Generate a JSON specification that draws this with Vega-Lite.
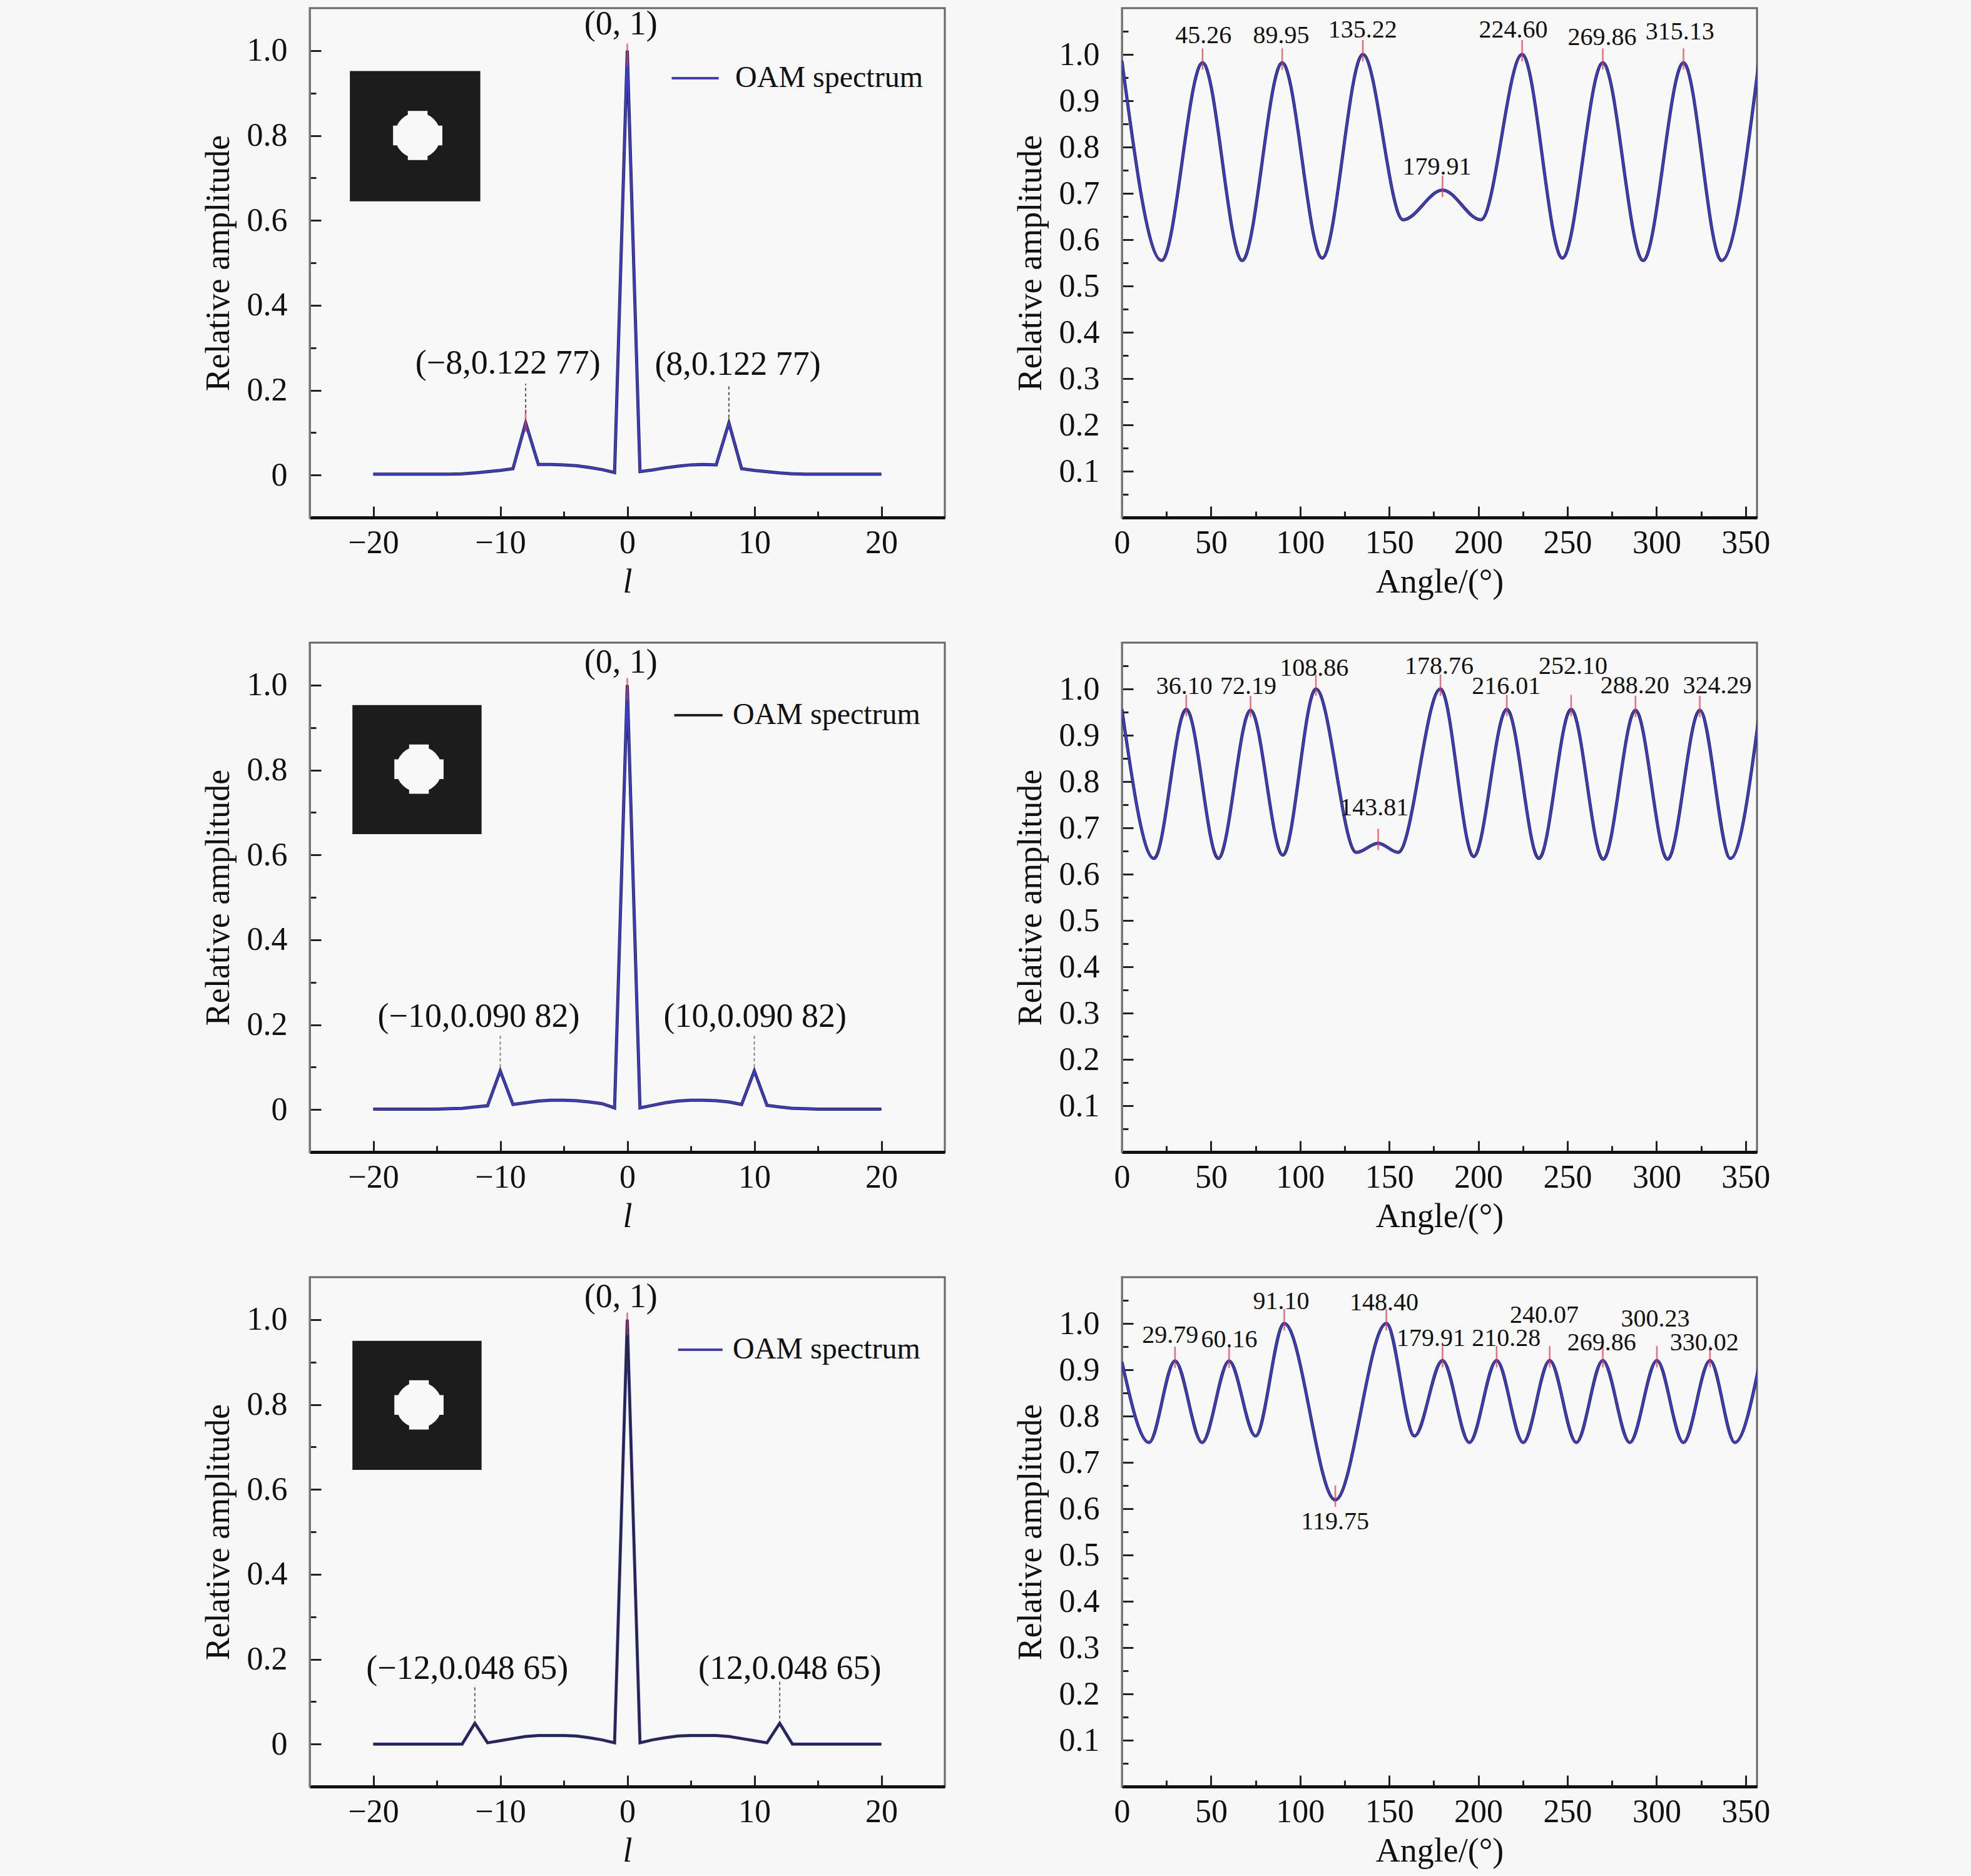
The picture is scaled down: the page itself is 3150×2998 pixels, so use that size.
{
  "$schema": "https://vega.github.io/schema/vega-lite/v6.json",
  "background": "#f7f7f7",
  "padding": {"left": 320, "top": 10, "right": 323, "bottom": 10},
  "config": {
    "font": "Liberation Serif",
    "view": {"stroke": "#666", "strokeWidth": 3, "fill": "#f8f8f8"},
    "axis": {
      "labelFont": "Liberation Serif", "labelFontSize": 52, "labelColor": "#111",
      "titleFont": "Liberation Serif", "titleFontSize": 54, "titleFontWeight": "normal", "titleColor": "#111",
      "grid": false, "tickColor": "#222", "tickWidth": 3,
      "labelFlush": false, "labelOverlap": false
    },
    "axisX": {"labelPadding": 33, "titlePadding": 2, "domainColor": "#111", "domainWidth": 5},
    "axisY": {"labelPadding": 54, "titlePadding": 18, "domainColor": "#777", "domainWidth": 3},
    "text": {"font": "Liberation Serif", "color": "#111"}
  },
  "datasets": {
    "oam1": [
      {"x": -20, "y": 0.002}, {"x": -19, "y": 0.002}, {"x": -18, "y": 0.002}, {"x": -17, "y": 0.002},
      {"x": -16, "y": 0.002}, {"x": -15, "y": 0.002}, {"x": -14, "y": 0.002}, {"x": -13, "y": 0.003},
      {"x": -12, "y": 0.005}, {"x": -11, "y": 0.008}, {"x": -10, "y": 0.011}, {"x": -9, "y": 0.015},
      {"x": -8, "y": 0.123}, {"x": -7, "y": 0.025}, {"x": -6, "y": 0.025}, {"x": -5, "y": 0.024},
      {"x": -4, "y": 0.022}, {"x": -3, "y": 0.018}, {"x": -2, "y": 0.013}, {"x": -1, "y": 0.006},
      {"x": 0, "y": 1.0},
      {"x": 1, "y": 0.008}, {"x": 2, "y": 0.012}, {"x": 3, "y": 0.017}, {"x": 4, "y": 0.021},
      {"x": 5, "y": 0.024}, {"x": 6, "y": 0.025}, {"x": 7, "y": 0.024}, {"x": 8, "y": 0.123},
      {"x": 9, "y": 0.015}, {"x": 10, "y": 0.011}, {"x": 11, "y": 0.008}, {"x": 12, "y": 0.005},
      {"x": 13, "y": 0.003}, {"x": 14, "y": 0.002}, {"x": 15, "y": 0.002}, {"x": 16, "y": 0.002},
      {"x": 17, "y": 0.002}, {"x": 18, "y": 0.002}, {"x": 19, "y": 0.002}, {"x": 20, "y": 0.002}
    ],
    "oam2": [
      {"x": -20, "y": 0.001}, {"x": -19, "y": 0.001}, {"x": -18, "y": 0.001}, {"x": -17, "y": 0.001},
      {"x": -16, "y": 0.001}, {"x": -15, "y": 0.001}, {"x": -14, "y": 0.002}, {"x": -13, "y": 0.003},
      {"x": -12, "y": 0.006}, {"x": -11, "y": 0.009}, {"x": -10, "y": 0.091}, {"x": -9, "y": 0.012},
      {"x": -8, "y": 0.016}, {"x": -7, "y": 0.02}, {"x": -6, "y": 0.022}, {"x": -5, "y": 0.022},
      {"x": -4, "y": 0.021}, {"x": -3, "y": 0.018}, {"x": -2, "y": 0.014}, {"x": -1, "y": 0.004},
      {"x": 0, "y": 1.0},
      {"x": 1, "y": 0.004}, {"x": 2, "y": 0.01}, {"x": 3, "y": 0.016}, {"x": 4, "y": 0.02},
      {"x": 5, "y": 0.022}, {"x": 6, "y": 0.022}, {"x": 7, "y": 0.021}, {"x": 8, "y": 0.018},
      {"x": 9, "y": 0.012}, {"x": 10, "y": 0.091}, {"x": 11, "y": 0.01}, {"x": 12, "y": 0.006},
      {"x": 13, "y": 0.003}, {"x": 14, "y": 0.002}, {"x": 15, "y": 0.001}, {"x": 16, "y": 0.001},
      {"x": 17, "y": 0.001}, {"x": 18, "y": 0.001}, {"x": 19, "y": 0.001}, {"x": 20, "y": 0.001}
    ],
    "oam3": [
      {"x": -20, "y": 0.0}, {"x": -19, "y": 0.0}, {"x": -18, "y": 0.0}, {"x": -17, "y": 0.0},
      {"x": -16, "y": 0.0}, {"x": -15, "y": 0.0}, {"x": -14, "y": 0.0}, {"x": -13, "y": 0.0},
      {"x": -12, "y": 0.049}, {"x": -11, "y": 0.003}, {"x": -10, "y": 0.008}, {"x": -9, "y": 0.013},
      {"x": -8, "y": 0.018}, {"x": -7, "y": 0.02}, {"x": -6, "y": 0.02}, {"x": -5, "y": 0.02},
      {"x": -4, "y": 0.019}, {"x": -3, "y": 0.015}, {"x": -2, "y": 0.01}, {"x": -1, "y": 0.003},
      {"x": 0, "y": 1.0},
      {"x": 1, "y": 0.003}, {"x": 2, "y": 0.01}, {"x": 3, "y": 0.015}, {"x": 4, "y": 0.019},
      {"x": 5, "y": 0.02}, {"x": 6, "y": 0.02}, {"x": 7, "y": 0.02}, {"x": 8, "y": 0.018},
      {"x": 9, "y": 0.013}, {"x": 10, "y": 0.008}, {"x": 11, "y": 0.003}, {"x": 12, "y": 0.049},
      {"x": 13, "y": 0.0}, {"x": 14, "y": 0.0}, {"x": 15, "y": 0.0}, {"x": 16, "y": 0.0},
      {"x": 17, "y": 0.0}, {"x": 18, "y": 0.0}, {"x": 19, "y": 0.0}, {"x": 20, "y": 0.0}
    ],
    "ang1": [
      {"x": 0, "y": 0.986}, {"x": 22.3, "y": 0.555}, {"x": 45.26, "y": 0.982}, {"x": 67.5, "y": 0.555},
      {"x": 89.95, "y": 0.982}, {"x": 112.4, "y": 0.56}, {"x": 135.22, "y": 1.0}, {"x": 157.8, "y": 0.643},
      {"x": 179.91, "y": 0.707}, {"x": 201.5, "y": 0.643}, {"x": 224.6, "y": 1.0}, {"x": 247.2, "y": 0.56},
      {"x": 269.86, "y": 0.982}, {"x": 292.5, "y": 0.555}, {"x": 315.13, "y": 0.982}, {"x": 336.5, "y": 0.555},
      {"x": 357.5, "y": 0.986}
    ],
    "ang2": [
      {"x": 0, "y": 0.956}, {"x": 18, "y": 0.634}, {"x": 36.1, "y": 0.956}, {"x": 54.1, "y": 0.634},
      {"x": 72.19, "y": 0.954}, {"x": 90.3, "y": 0.641}, {"x": 108.86, "y": 1.0}, {"x": 131.6, "y": 0.647},
      {"x": 143.81, "y": 0.667}, {"x": 155, "y": 0.647}, {"x": 178.76, "y": 1.0}, {"x": 197.4, "y": 0.638},
      {"x": 216.01, "y": 0.956}, {"x": 234, "y": 0.634}, {"x": 252.1, "y": 0.956}, {"x": 270.1, "y": 0.632},
      {"x": 288.2, "y": 0.954}, {"x": 306.2, "y": 0.632}, {"x": 324.29, "y": 0.954}, {"x": 341.5, "y": 0.634},
      {"x": 358, "y": 0.956}
    ],
    "ang3": [
      {"x": 0, "y": 0.917}, {"x": 15.2, "y": 0.743}, {"x": 29.79, "y": 0.919}, {"x": 45, "y": 0.743},
      {"x": 60.16, "y": 0.919}, {"x": 75, "y": 0.757}, {"x": 91.1, "y": 1.0}, {"x": 119.75, "y": 0.619},
      {"x": 148.4, "y": 1.0}, {"x": 164.2, "y": 0.757}, {"x": 179.91, "y": 0.92}, {"x": 195, "y": 0.743},
      {"x": 210.28, "y": 0.92}, {"x": 225.2, "y": 0.743}, {"x": 240.07, "y": 0.92}, {"x": 255, "y": 0.743},
      {"x": 269.86, "y": 0.92}, {"x": 285, "y": 0.743}, {"x": 300.23, "y": 0.92}, {"x": 315.1, "y": 0.743},
      {"x": 330.02, "y": 0.92}, {"x": 344, "y": 0.743}, {"x": 358, "y": 0.917}
    ],
    "pk1": [
      {"x": 45.26, "y": 0.982}, {"x": 89.95, "y": 0.982}, {"x": 135.22, "y": 1.0}, {"x": 179.91, "y": 0.707},
      {"x": 224.6, "y": 1.0}, {"x": 269.86, "y": 0.982}, {"x": 315.13, "y": 0.982}
    ],
    "lb1": [
      {"x": 45.7, "y": 1.04, "t": "45.26"}, {"x": 89.4, "y": 1.04, "t": "89.95"},
      {"x": 135.1, "y": 1.053, "t": "135.22"}, {"x": 176.8, "y": 0.757, "t": "179.91"},
      {"x": 219.6, "y": 1.053, "t": "224.60"}, {"x": 269.5, "y": 1.036, "t": "269.86"},
      {"x": 313.1, "y": 1.048, "t": "315.13"}
    ],
    "pk2": [
      {"x": 36.1, "y": 0.956}, {"x": 72.19, "y": 0.954}, {"x": 108.86, "y": 1.0}, {"x": 143.81, "y": 0.667},
      {"x": 178.76, "y": 1.0}, {"x": 216.01, "y": 0.956}, {"x": 252.1, "y": 0.956}, {"x": 288.2, "y": 0.954},
      {"x": 324.29, "y": 0.954}
    ],
    "lb2": [
      {"x": 35.0, "y": 1.005, "t": "36.10"}, {"x": 70.9, "y": 1.005, "t": "72.19"},
      {"x": 107.9, "y": 1.045, "t": "108.86"}, {"x": 141.6, "y": 0.743, "t": "143.81"},
      {"x": 178.0, "y": 1.049, "t": "178.76"}, {"x": 215.7, "y": 1.005, "t": "216.01"},
      {"x": 253.2, "y": 1.048, "t": "252.10"}, {"x": 287.8, "y": 1.007, "t": "288.20"},
      {"x": 334.1, "y": 1.007, "t": "324.29"}
    ],
    "pk3": [
      {"x": 29.79, "y": 0.919}, {"x": 60.16, "y": 0.919}, {"x": 91.1, "y": 1.0}, {"x": 119.75, "y": 0.619},
      {"x": 148.4, "y": 1.0}, {"x": 179.91, "y": 0.92}, {"x": 210.28, "y": 0.92}, {"x": 240.07, "y": 0.92},
      {"x": 269.86, "y": 0.92}, {"x": 300.23, "y": 0.92}, {"x": 330.02, "y": 0.92}
    ],
    "lb3": [
      {"x": 27.1, "y": 0.975, "t": "29.79"}, {"x": 60.2, "y": 0.965, "t": "60.16"},
      {"x": 89.4, "y": 1.047, "t": "91.10"}, {"x": 119.6, "y": 0.572, "t": "119.75"},
      {"x": 147.1, "y": 1.044, "t": "148.40"}, {"x": 173.5, "y": 0.968, "t": "179.91"},
      {"x": 215.7, "y": 0.968, "t": "210.28"}, {"x": 237.0, "y": 1.018, "t": "240.07"},
      {"x": 269.2, "y": 0.958, "t": "269.86"}, {"x": 299.3, "y": 1.009, "t": "300.23"},
      {"x": 326.8, "y": 0.958, "t": "330.02"}
    ]
  },
  "bounds": "flush",
  "columns": 2,
  "spacing": {"row": 200, "column": 283},
  "concat": [
    {
      "width": 1015, "height": 814,
      "encoding": {
        "x": {"field": "x", "type": "quantitative", "scale": {"domain": [-25, 25], "nice": false, "zero": false},
          "axis": {"title": "l", "titleFontStyle": "italic", "values": [-20, -15, -10, -5, 0, 5, 10, 15, 20],
            "labelExpr": "datum.value % 10 == 0 ? datum.label : ''",
            "tickSize": {"condition": {"test": "datum.value % 10 != 0", "value": -10}, "value": -18}}},
        "y": {"field": "y", "type": "quantitative", "scale": {"domain": [-0.1, 1.1], "nice": false, "zero": false},
          "axis": {"title": "Relative amplitude", "values": [0, 0.1, 0.2, 0.3, 0.4, 0.5, 0.6, 0.7, 0.8, 0.9, 1.0],
            "labelExpr": "round(datum.value * 10) % 2 == 1 ? '' : (datum.value == 0 ? '0' : format(datum.value, '.1f'))",
            "tickSize": {"condition": {"test": "round(datum.value * 10) % 2 == 1", "value": -10}, "value": -18}}}
      },
      "layer": [
        {"data": {"name": "oam1"}, "mark": {"type": "line", "color": "#222", "strokeWidth": 5}},
        {"data": {"name": "oam1"}, "mark": {"type": "line", "color": "#3c3cc8", "strokeWidth": 3.5}},
        {"data": {"values": [{"x": -21.84, "x2": -11.57, "y": 0.952, "y2": 0.645}]},
          "mark": {"type": "rect", "color": "#1c1c1c"}, "encoding": {"x2": {"field": "x2"}, "y2": {"field": "y2"}}},
        {"data": {"values": [{"x": -16.5, "y": 0.8}]},
          "mark": {"type": "point", "shape": "cross", "filled": true, "color": "#f8f8f8", "opacity": 1, "size": 6200}},
        {"data": {"values": [{"x": -16.5, "y": 0.8}]},
          "mark": {"type": "point", "shape": "circle", "filled": true, "color": "#f8f8f8", "opacity": 1, "size": 5400}},
        {"data": {"values": [{"x": 3.5, "x2": 7.2, "y": 0.935}]},
          "mark": {"type": "rule", "color": "#3c3cc8", "strokeWidth": 4}, "encoding": {"x2": {"field": "x2"}}},
        {"data": {"values": [{"x": 8.5, "y": 0.935, "t": "OAM spectrum"}]},
          "mark": {"type": "text", "align": "left", "baseline": "middle", "fontSize": 48}, "encoding": {"text": {"field": "t"}}},
        {"data": {"values": [{"x": -8, "y": 0.145, "y2": 0.215}, {"x": 8, "y": 0.135, "y2": 0.21}]},
          "mark": {"type": "rule", "color": "#555", "strokeWidth": 2, "strokeDash": [5, 4]}, "encoding": {"y2": {"field": "y2"}}},
        {"data": {"values": [{"x": 0, "y": 0.99}, {"x": -8, "y": 0.128}]},
          "mark": {"type": "tick", "orient": "vertical", "color": "#e8304a", "size": 36, "thickness": 2.5}},
        {"data": {"values": [
            {"x": -0.5, "y": 1.062, "t": "(0, 1)"},
            {"x": -9.4, "y": 0.262, "t": "(−8,0.122 77)"},
            {"x": 8.7, "y": 0.26, "t": "(8,0.122 77)"}]},
          "mark": {"type": "text", "align": "center", "baseline": "middle", "fontSize": 54}, "encoding": {"text": {"field": "t"}}}
      ]
    },
    {
      "width": 1015, "height": 814,
      "encoding": {
        "x": {"field": "x", "type": "quantitative", "scale": {"domain": [0, 356.4], "nice": false, "zero": false},
          "axis": {"title": "Angle/(°)", "values": [0, 25, 50, 75, 100, 125, 150, 175, 200, 225, 250, 275, 300, 325, 350],
            "labelExpr": "datum.value % 50 == 0 ? datum.label : ''",
            "tickSize": {"condition": {"test": "datum.value % 50 != 0", "value": -10}, "value": -18}}},
        "y": {"field": "y", "type": "quantitative", "scale": {"domain": [0, 1.1], "nice": false, "zero": false},
          "axis": {"title": "Relative amplitude", "values": [0.05, 0.1, 0.15, 0.2, 0.25, 0.3, 0.35, 0.4, 0.45, 0.5, 0.55, 0.6, 0.65, 0.7, 0.75, 0.8, 0.85, 0.9, 0.95, 1.0, 1.05],
            "labelExpr": "round(datum.value * 20) % 2 == 1 ? '' : format(datum.value, '.1f')",
            "tickSize": {"condition": {"test": "round(datum.value * 20) % 2 == 1", "value": -10}, "value": -18}}}
      },
      "layer": [
        {"data": {"name": "ang1"}, "mark": {"type": "line", "color": "#222", "strokeWidth": 5, "interpolate": "monotone", "clip": true}},
        {"data": {"name": "ang1"}, "mark": {"type": "line", "color": "#3c3cc8", "strokeWidth": 3.5, "interpolate": "monotone", "clip": true}},
        {"data": {"name": "pk1"}, "mark": {"type": "tick", "orient": "vertical", "color": "#e8304a", "size": 34, "thickness": 2.5, "yOffset": -6}},
        {"data": {"name": "lb1"}, "mark": {"type": "text", "align": "center", "baseline": "middle", "fontSize": 40}, "encoding": {"text": {"field": "t"}}}
      ]
    },
    {
      "width": 1015, "height": 814,
      "encoding": {
        "x": {"field": "x", "type": "quantitative", "scale": {"domain": [-25, 25], "nice": false, "zero": false},
          "axis": {"title": "l", "titleFontStyle": "italic", "values": [-20, -15, -10, -5, 0, 5, 10, 15, 20],
            "labelExpr": "datum.value % 10 == 0 ? datum.label : ''",
            "tickSize": {"condition": {"test": "datum.value % 10 != 0", "value": -10}, "value": -18}}},
        "y": {"field": "y", "type": "quantitative", "scale": {"domain": [-0.1, 1.1], "nice": false, "zero": false},
          "axis": {"title": "Relative amplitude", "values": [0, 0.1, 0.2, 0.3, 0.4, 0.5, 0.6, 0.7, 0.8, 0.9, 1.0],
            "labelExpr": "round(datum.value * 10) % 2 == 1 ? '' : (datum.value == 0 ? '0' : format(datum.value, '.1f'))",
            "tickSize": {"condition": {"test": "round(datum.value * 10) % 2 == 1", "value": -10}, "value": -18}}}
      },
      "layer": [
        {"data": {"name": "oam2"}, "mark": {"type": "line", "color": "#222", "strokeWidth": 5}},
        {"data": {"name": "oam2"}, "mark": {"type": "line", "color": "#3c3cc8", "strokeWidth": 3.5}},
        {"data": {"values": [{"x": -21.64, "x2": -11.47, "y": 0.953, "y2": 0.649}]},
          "mark": {"type": "rect", "color": "#1c1c1c"}, "encoding": {"x2": {"field": "x2"}, "y2": {"field": "y2"}}},
        {"data": {"values": [{"x": -16.4, "y": 0.802}]},
          "mark": {"type": "point", "shape": "cross", "filled": true, "color": "#f8f8f8", "opacity": 1, "size": 6200}},
        {"data": {"values": [{"x": -16.4, "y": 0.802}]},
          "mark": {"type": "point", "shape": "circle", "filled": true, "color": "#f8f8f8", "opacity": 1, "size": 5400}},
        {"data": {"values": [{"x": 3.7, "x2": 7.5, "y": 0.929}]},
          "mark": {"type": "rule", "color": "#222", "strokeWidth": 4}, "encoding": {"x2": {"field": "x2"}}},
        {"data": {"values": [{"x": 8.3, "y": 0.929, "t": "OAM spectrum"}]},
          "mark": {"type": "text", "align": "left", "baseline": "middle", "fontSize": 48}, "encoding": {"text": {"field": "t"}}},
        {"data": {"values": [{"x": -10, "y": 0.1, "y2": 0.175}, {"x": 10, "y": 0.1, "y2": 0.175}]},
          "mark": {"type": "rule", "color": "#888", "strokeWidth": 2, "strokeDash": [5, 4]}, "encoding": {"y2": {"field": "y2"}}},
        {"data": {"values": [{"x": 0, "y": 0.99}]},
          "mark": {"type": "tick", "orient": "vertical", "color": "#e8304a", "size": 36, "thickness": 2.5}},
        {"data": {"values": [
            {"x": -0.5, "y": 1.053, "t": "(0, 1)"},
            {"x": -11.7, "y": 0.218, "t": "(−10,0.090 82)"},
            {"x": 10.06, "y": 0.218, "t": "(10,0.090 82)"}]},
          "mark": {"type": "text", "align": "center", "baseline": "middle", "fontSize": 54}, "encoding": {"text": {"field": "t"}}}
      ]
    },
    {
      "width": 1015, "height": 814,
      "encoding": {
        "x": {"field": "x", "type": "quantitative", "scale": {"domain": [0, 356.4], "nice": false, "zero": false},
          "axis": {"title": "Angle/(°)", "values": [0, 25, 50, 75, 100, 125, 150, 175, 200, 225, 250, 275, 300, 325, 350],
            "labelExpr": "datum.value % 50 == 0 ? datum.label : ''",
            "tickSize": {"condition": {"test": "datum.value % 50 != 0", "value": -10}, "value": -18}}},
        "y": {"field": "y", "type": "quantitative", "scale": {"domain": [0, 1.1], "nice": false, "zero": false},
          "axis": {"title": "Relative amplitude", "values": [0.05, 0.1, 0.15, 0.2, 0.25, 0.3, 0.35, 0.4, 0.45, 0.5, 0.55, 0.6, 0.65, 0.7, 0.75, 0.8, 0.85, 0.9, 0.95, 1.0, 1.05],
            "labelExpr": "round(datum.value * 20) % 2 == 1 ? '' : format(datum.value, '.1f')",
            "tickSize": {"condition": {"test": "round(datum.value * 20) % 2 == 1", "value": -10}, "value": -18}}}
      },
      "layer": [
        {"data": {"name": "ang2"}, "mark": {"type": "line", "color": "#222", "strokeWidth": 5, "interpolate": "monotone", "clip": true}},
        {"data": {"name": "ang2"}, "mark": {"type": "line", "color": "#3c3cc8", "strokeWidth": 3.5, "interpolate": "monotone", "clip": true}},
        {"data": {"name": "pk2"}, "mark": {"type": "tick", "orient": "vertical", "color": "#e8304a", "size": 34, "thickness": 2.5, "yOffset": -6}},
        {"data": {"name": "lb2"}, "mark": {"type": "text", "align": "center", "baseline": "middle", "fontSize": 40}, "encoding": {"text": {"field": "t"}}}
      ]
    },
    {
      "width": 1015, "height": 814,
      "encoding": {
        "x": {"field": "x", "type": "quantitative", "scale": {"domain": [-25, 25], "nice": false, "zero": false},
          "axis": {"title": "l", "titleFontStyle": "italic", "values": [-20, -15, -10, -5, 0, 5, 10, 15, 20],
            "labelExpr": "datum.value % 10 == 0 ? datum.label : ''",
            "tickSize": {"condition": {"test": "datum.value % 10 != 0", "value": -10}, "value": -18}}},
        "y": {"field": "y", "type": "quantitative", "scale": {"domain": [-0.1, 1.1], "nice": false, "zero": false},
          "axis": {"title": "Relative amplitude", "values": [0, 0.1, 0.2, 0.3, 0.4, 0.5, 0.6, 0.7, 0.8, 0.9, 1.0],
            "labelExpr": "round(datum.value * 10) % 2 == 1 ? '' : (datum.value == 0 ? '0' : format(datum.value, '.1f'))",
            "tickSize": {"condition": {"test": "round(datum.value * 10) % 2 == 1", "value": -10}, "value": -18}}}
      },
      "layer": [
        {"data": {"name": "oam3"}, "mark": {"type": "line", "color": "#3c3cc8", "strokeWidth": 5}},
        {"data": {"name": "oam3"}, "mark": {"type": "line", "color": "#222", "strokeWidth": 3.5, "opacity": 0.8}},
        {"data": {"values": [{"x": -21.64, "x2": -11.47, "y": 0.95, "y2": 0.646}]},
          "mark": {"type": "rect", "color": "#1c1c1c"}, "encoding": {"x2": {"field": "x2"}, "y2": {"field": "y2"}}},
        {"data": {"values": [{"x": -16.4, "y": 0.799}]},
          "mark": {"type": "point", "shape": "cross", "filled": true, "color": "#f8f8f8", "opacity": 1, "size": 6200}},
        {"data": {"values": [{"x": -16.4, "y": 0.799}]},
          "mark": {"type": "point", "shape": "circle", "filled": true, "color": "#f8f8f8", "opacity": 1, "size": 5400}},
        {"data": {"values": [{"x": 4.0, "x2": 7.5, "y": 0.929}]},
          "mark": {"type": "rule", "color": "#3c3cc8", "strokeWidth": 4}, "encoding": {"x2": {"field": "x2"}}},
        {"data": {"values": [{"x": 8.3, "y": 0.929, "t": "OAM spectrum"}]},
          "mark": {"type": "text", "align": "left", "baseline": "middle", "fontSize": 48}, "encoding": {"text": {"field": "t"}}},
        {"data": {"values": [{"x": -12, "y": 0.06, "y2": 0.14}, {"x": 12, "y": 0.06, "y2": 0.15}]},
          "mark": {"type": "rule", "color": "#666", "strokeWidth": 2, "strokeDash": [5, 4]}, "encoding": {"y2": {"field": "y2"}}},
        {"data": {"values": [{"x": 0, "y": 0.99}]},
          "mark": {"type": "tick", "orient": "vertical", "color": "#e8304a", "size": 36, "thickness": 2.5}},
        {"data": {"values": [
            {"x": -0.5, "y": 1.053, "t": "(0, 1)"},
            {"x": -12.6, "y": 0.177, "t": "(−12,0.048 65)"},
            {"x": 12.8, "y": 0.177, "t": "(12,0.048 65)"}]},
          "mark": {"type": "text", "align": "center", "baseline": "middle", "fontSize": 54}, "encoding": {"text": {"field": "t"}}}
      ]
    },
    {
      "width": 1015, "height": 814,
      "encoding": {
        "x": {"field": "x", "type": "quantitative", "scale": {"domain": [0, 356.4], "nice": false, "zero": false},
          "axis": {"title": "Angle/(°)", "values": [0, 25, 50, 75, 100, 125, 150, 175, 200, 225, 250, 275, 300, 325, 350],
            "labelExpr": "datum.value % 50 == 0 ? datum.label : ''",
            "tickSize": {"condition": {"test": "datum.value % 50 != 0", "value": -10}, "value": -18}}},
        "y": {"field": "y", "type": "quantitative", "scale": {"domain": [0, 1.1], "nice": false, "zero": false},
          "axis": {"title": "Relative amplitude", "values": [0.05, 0.1, 0.15, 0.2, 0.25, 0.3, 0.35, 0.4, 0.45, 0.5, 0.55, 0.6, 0.65, 0.7, 0.75, 0.8, 0.85, 0.9, 0.95, 1.0, 1.05],
            "labelExpr": "round(datum.value * 20) % 2 == 1 ? '' : format(datum.value, '.1f')",
            "tickSize": {"condition": {"test": "round(datum.value * 20) % 2 == 1", "value": -10}, "value": -18}}}
      },
      "layer": [
        {"data": {"name": "ang3"}, "mark": {"type": "line", "color": "#222", "strokeWidth": 5, "interpolate": "monotone", "clip": true}},
        {"data": {"name": "ang3"}, "mark": {"type": "line", "color": "#3c3cc8", "strokeWidth": 3.5, "interpolate": "monotone", "clip": true}},
        {"data": {"name": "pk3"}, "mark": {"type": "tick", "orient": "vertical", "color": "#e8304a", "size": 34, "thickness": 2.5, "yOffset": -6}},
        {"data": {"name": "lb3"}, "mark": {"type": "text", "align": "center", "baseline": "middle", "fontSize": 40}, "encoding": {"text": {"field": "t"}}}
      ]
    }
  ]
}
